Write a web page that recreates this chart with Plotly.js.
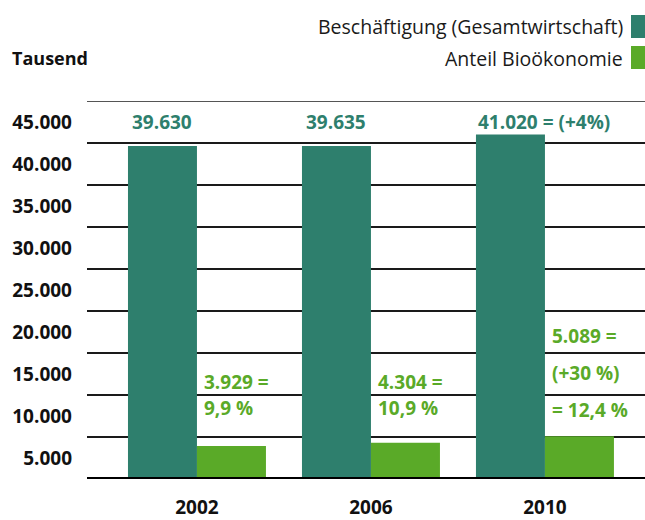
<!DOCTYPE html>
<html>
<head>
<meta charset="utf-8">
<script src="https://cdn.plot.ly/plotly-3.0.1.min.js"></script>
<style>html,body{margin:0;padding:0;background:#fff;}#chart{width:645px;height:520px;}</style>
</head>
<body>
<div id="chart"></div>
<script>
// ---- data ----
const years = ['2002', '2006', '2010'];
const totalEmployment = [39630, 39635, 41020];
const bioeconomyShare = [3929, 4304, 5089];
const totalLabels = ['39.630', '39.635', '41.020 = (+4%)'];
const bioLabels = [['3.929 =', '9,9 %'], ['4.304 =', '10,9 %'], ['5.089 =', '(+30 %)', '= 12,4 %']];
const yTickVals = [5000, 10000, 15000, 20000, 25000, 30000, 35000, 40000, 45000];
const yTickText = ['5.000', '10.000', '15.000', '20.000', '25.000', '30.000', '35.000', '40.000', '45.000'];
const seriesNames = ['Beschäftigung (Gesamtwirtschaft)', 'Anteil Bioökonomie'];

// ---- style ----
const TEAL = '#2e7f6d';
const GREEN = '#5aaa28';
const FONT = 'Open Sans, Noto Sans, sans-serif';
const FS = 19;

// geometry helpers (plot area: x 87..645, y 101..479)
const PT = 101, PB = 479, PL = 87, PR = 645;
const py = p => (PB - p) / (PB - PT);
const px = p => (p - PL) / (PR - PL);

const traces = [
  {type: 'bar', name: seriesNames[0], x: years, y: totalEmployment,
   marker: {color: TEAL}, hoverinfo: 'skip'},
  {type: 'bar', name: seriesNames[1], x: years, y: bioeconomyShare,
   marker: {color: GREEN}, hoverinfo: 'skip'}
];

const annotations = [];
// total labels (x given as category index)
totalLabels.forEach((t, i) => {
  const last = i === totalLabels.length - 1;
  annotations.push({
    x: i, xref: 'x', y: py(122), yref: 'paper',
    text: '<b>' + t + '</b>', showarrow: false,
    xanchor: last ? 'left' : 'center', yanchor: 'middle',
    xshift: last ? -69 : -34.5,
    font: {family: FONT, size: FS, color: TEAL}
  });
});
// bio labels
const bioRows = [[382, 408], [382, 408], [336, 373, 410]];
bioLabels.forEach((lines, i) => {
  lines.forEach((t, j) => {
    annotations.push({
      x: i, xref: 'x', y: py(bioRows[i][j]), yref: 'paper',
      text: '<b>' + t + '</b>', showarrow: false,
      xanchor: 'left', yanchor: 'middle', xshift: 5,
      font: {family: FONT, size: FS, color: GREEN}
    });
  });
});
// legend texts
annotations.push({x: px(625), xref: 'paper', y: py(27), yref: 'paper', text: seriesNames[0],
  showarrow: false, xanchor: 'right', yanchor: 'middle', font: {family: FONT, size: 19.5, color: '#1a1a1a'}});
annotations.push({x: px(625), xref: 'paper', y: py(58), yref: 'paper', text: seriesNames[1],
  showarrow: false, xanchor: 'right', yanchor: 'middle', font: {family: FONT, size: 19.5, color: '#1a1a1a'}});
// unit label
annotations.push({x: px(10), xref: 'paper', y: py(58), yref: 'paper', text: '<b>Tausend</b>',
  showarrow: false, xanchor: 'left', yanchor: 'middle', font: {family: FONT, size: 18, color: '#111'}});

const shapes = [
  {type: 'rect', xref: 'paper', yref: 'paper', x0: px(631), x1: px(646), y0: py(38), y1: py(15),
   fillcolor: TEAL, line: {width: 0}},
  {type: 'rect', xref: 'paper', yref: 'paper', x0: px(631), x1: px(646), y0: py(69), y1: py(46),
   fillcolor: GREEN, line: {width: 0}},
  {type: 'line', xref: 'paper', yref: 'y', x0: 0, x1: 1, y0: 45000, y1: 45000,
   line: {color: '#555', width: 2}, layer: 'below'},
  {type: 'line', xref: 'paper', yref: 'y', x0: 0, x1: 1, y0: 0, y1: 0,
   line: {color: '#000', width: 4}, layer: 'above'}
];

const layout = {
  width: 645, height: 520,
  margin: {l: PL, r: 0, t: PT, b: 520 - PB},
  paper_bgcolor: '#fff', plot_bgcolor: '#fff',
  showlegend: false,
  barmode: 'group', bargap: 0.207, bargroupgap: 0,
  font: {family: FONT, color: '#111'},
  xaxis: {type: 'category', range: [-0.632, 2.575], showgrid: false, zeroline: false,
    showline: false, ticks: '', ticklabelstandoff: 15,
    tickfont: {family: FONT, size: FS, color: '#111', weight: 'bold'}, fixedrange: true},
  yaxis: {range: [0, 45000], tickvals: yTickVals, ticktext: yTickText, showgrid: true,
    gridcolor: '#1a1a1a', gridwidth: 1.5, zeroline: false, showline: false, ticks: '',
    ticklabelshift: 21, ticklabelstandoff: 14,
    tickfont: {family: FONT, size: FS, color: '#111', weight: 'bold'}, fixedrange: true},
  annotations: annotations,
  shapes: shapes
};

Plotly.newPlot('chart', traces, layout, {staticPlot: true, displayModeBar: false});
</script>
</body>
</html>
